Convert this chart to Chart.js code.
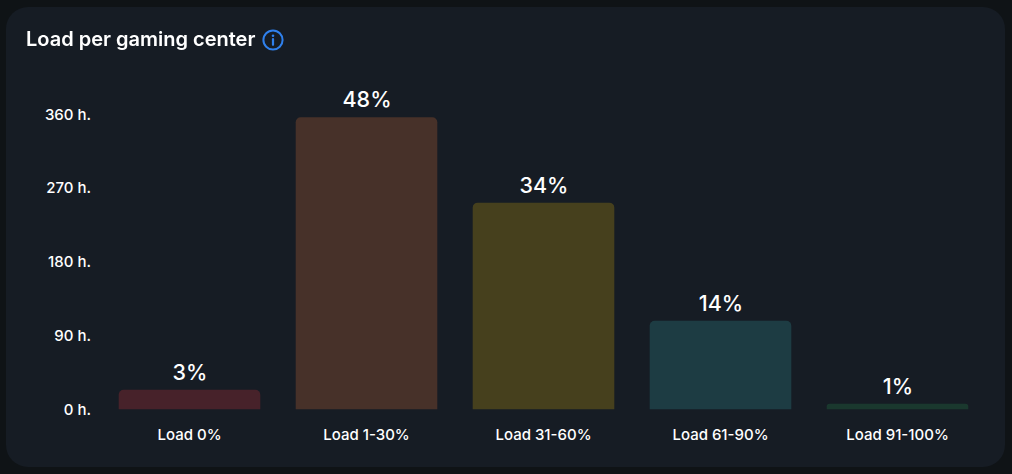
<!DOCTYPE html>
<html>
<head>
<meta charset="utf-8">
<title>Load per gaming center</title>
<script src="https://cdn.jsdelivr.net/npm/chart.js@4/dist/chart.umd.min.js"></script>
<style>
html, body { margin: 0; width: 1012px; height: 474px; overflow: hidden; background: #0f1316; }
.title { position: absolute; left: 26px; top: 26px; margin: 0; font: 600 20px/26px Inter, sans-serif; color: #fff; white-space: nowrap; }
.info { position: absolute; left: 261.5px; top: 28.5px; }
.wrap { position: absolute; left: 0; top: 0; width: 1012px; height: 474px; }
canvas { position: absolute; left: 0; top: 0; }
</style>
</head>
<body>
<div class="wrap">
	<canvas id="load-chart"></canvas>
</div>
<h2 class="title">Load per gaming center</h2>
<svg class="info" width="22" height="22" viewBox="0 0 22 22" fill="none">
	<circle cx="11" cy="11" r="9.6" stroke="#2f80ed" stroke-width="2"/>
	<circle cx="11" cy="6.8" r="1.3" fill="#2f80ed"/>
	<path d="M11 10v5.8" stroke="#2f80ed" stroke-width="2.2" stroke-linecap="round"/>
</svg>
<script>
const categories = ["Load 0%", "Load 1-30%", "Load 31-60%", "Load 61-90%", "Load 91-100%"];
const hours = [24, 356, 252, 108, 7];
const shares = ["3%", "48%", "34%", "14%", "1%"];
const barColors = ["#47222a", "#473129", "#46401d", "#1d3c43", "#1a382e"];
const yTicks = [0, 90, 180, 270, 360];

// opaque canvas, so the text gets the same subpixel look as the page
const canvas = document.getElementById("load-chart");
canvas.getContext("2d", { alpha: false });

const cardBackground = {
	id: "cardBackground",
	beforeDraw(chart) {
		const { ctx, width, height } = chart;
		ctx.save();
		ctx.fillStyle = "#0f1316";
		ctx.fillRect(0, 0, width, height);
		ctx.fillStyle = "#161c24";
		ctx.beginPath();
		ctx.roundRect(6, 7, 999, 460, 22);
		ctx.fill();
		ctx.restore();
	}
};

// percent above every bar
const shareLabels = {
	id: "shareLabels",
	afterDatasetsDraw(chart) {
		const { ctx } = chart;
		ctx.save();
		ctx.font = "500 21.5px Inter, sans-serif";
		ctx.fillStyle = "#fff";
		ctx.textAlign = "center";
		ctx.textBaseline = "alphabetic";
		chart.getDatasetMeta(0).data.forEach((bar, i) => {
			ctx.fillText(shares[i], bar.x + 0.5, bar.y - 10);
		});
		ctx.restore();
	}
};

new Chart(canvas, {
	type: "bar",
	data: {
		labels: categories,
		datasets: [
			{
				data: hours,
				backgroundColor: barColors,
				borderWidth: 0,
				borderRadius: { topLeft: 5, topRight: 5 },
				borderSkipped: "bottom",
				categoryPercentage: 0.8,
				barPercentage: 1
			}
		]
	},
	options: {
		responsive: true,
		maintainAspectRatio: false,
		animation: false,
		layout: { padding: { top: 114, right: 26, left: 0, bottom: 0 } },
		plugins: {
			legend: { display: false },
			tooltip: { enabled: false }
		},
		scales: {
			x: {
				grid: { display: false, drawTicks: false },
				border: { display: false },
				ticks: { color: "#fff", padding: 17, maxRotation: 0, font: { family: "Inter", size: 15, weight: 500 } },
				afterFit(scale) { scale.height = 64.5; }
			},
			y: {
				min: 0,
				max: 360,
				grid: { display: false, drawTicks: false },
				border: { display: false },
				afterBuildTicks(scale) { scale.ticks = yTicks.map((value) => ({ value })); },
				ticks: {
					color: "#fff",
					padding: 10,
					labelOffset: 1,
					callback: (value) => value + " h.",
					font: { family: "Inter", size: 15, weight: 500 }
				},
				afterFit(scale) { scale.width = 101; }
			}
		}
	},
	plugins: [cardBackground, shareLabels]
});
</script>
</body>
</html>
